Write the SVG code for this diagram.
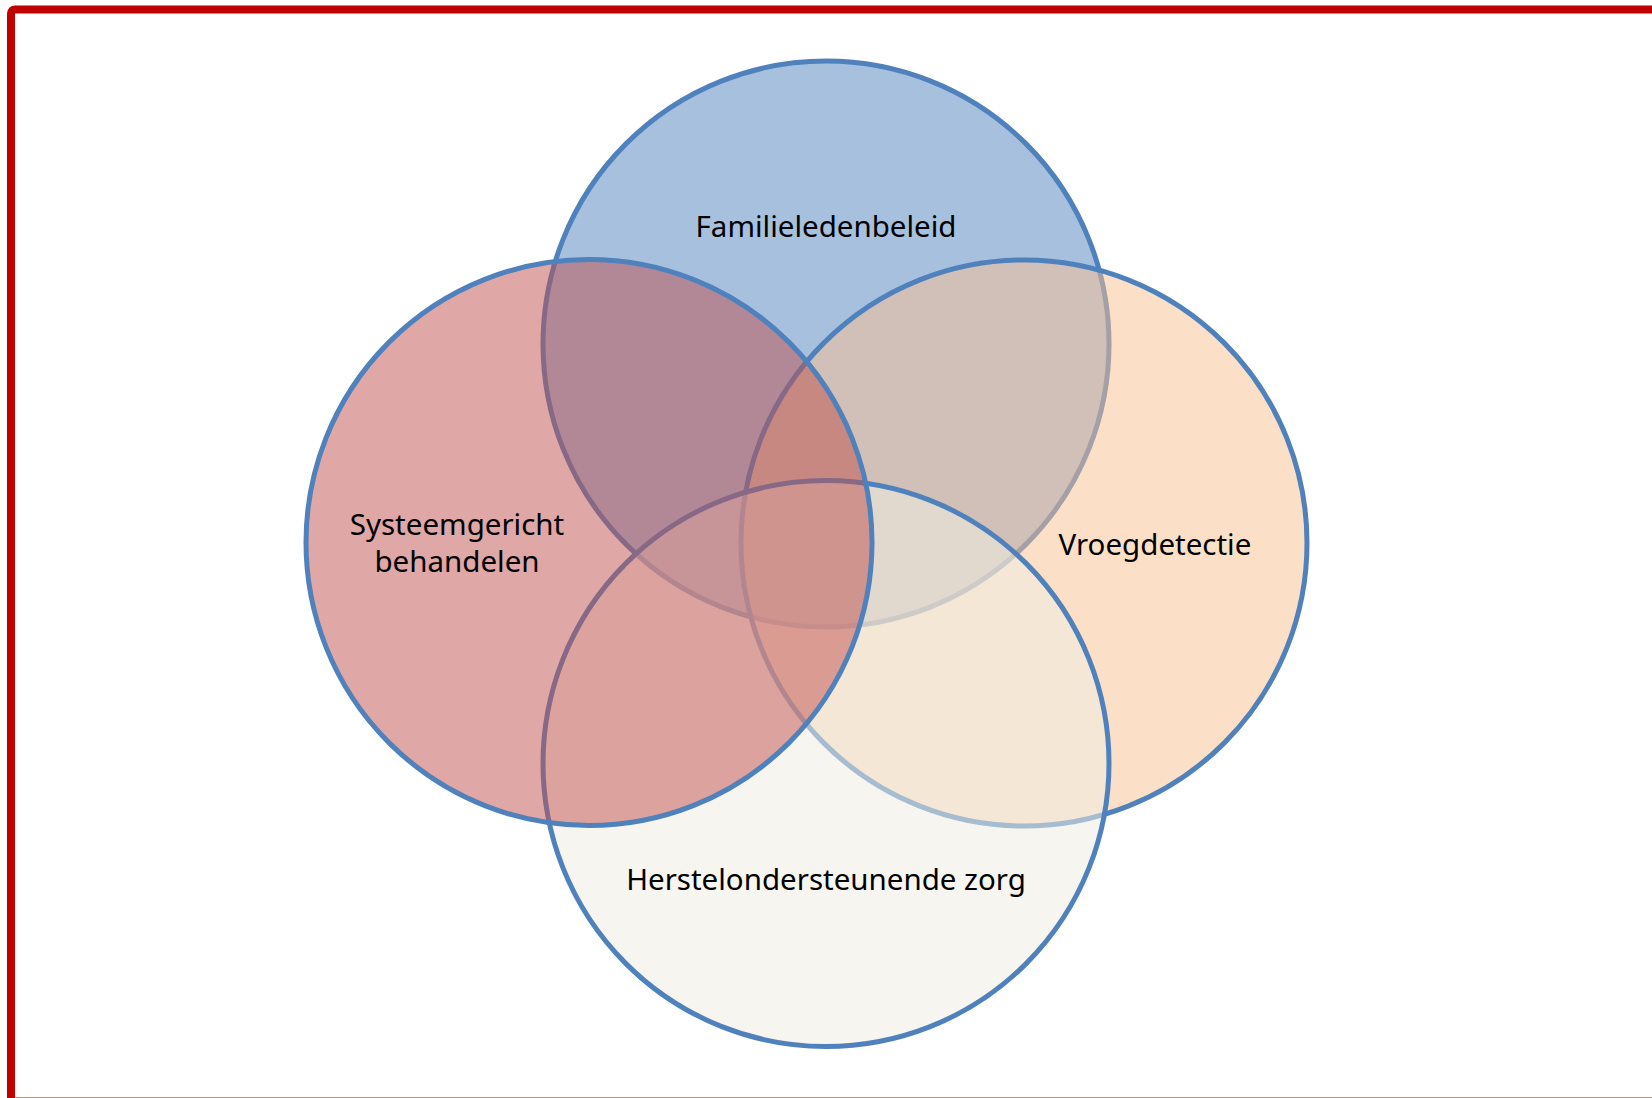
<svg xmlns="http://www.w3.org/2000/svg" width="1652" height="1098" viewBox="0 0 1652 1098">
<style>
.c{stroke:#4F81BD;stroke-width:5}
.t{font-family:"Noto Sans","Open Sans","Liberation Sans",sans-serif;font-size:29.5px;fill:#000;text-anchor:middle}
</style>
<rect x="0" y="0" width="1652" height="1098" fill="#FFFFFF"/>
<rect x="11" y="9.5" width="1700" height="1092" rx="4" fill="none" stroke="#C00000" stroke-width="8"/>
<g id="node-familieledenbeleid">
<circle class="c" cx="826" cy="344" r="283" fill="rgba(79,129,189,0.5)"/>
</g>
<g id="node-vroegdetectie">
<circle class="c" cx="1024" cy="543" r="283" fill="rgba(250,192,144,0.5)"/>
</g>
<g id="node-herstelondersteunende-zorg">
<circle class="c" cx="826" cy="763.5" r="283" fill="rgba(238,236,225,0.55)"/>
</g>
<g id="node-systeemgericht-behandelen">
<circle class="c" cx="589" cy="542.5" r="283" fill="rgba(192,80,77,0.5)"/>
</g>
<g id="labels">
<text class="t" x="826" y="237">Familieledenbeleid</text>
<text class="t" x="457" y="535">Systeemgericht</text>
<text class="t" x="457" y="572">behandelen</text>
<text class="t" x="1155" y="555">Vroegdetectie</text>
<text class="t" x="826" y="890">Herstelondersteunende zorg</text>
</g>
<g id="connectors"></g>
</svg>
